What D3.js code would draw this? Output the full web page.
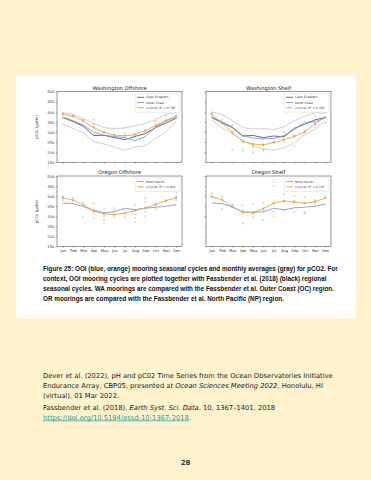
<!DOCTYPE html>
<html>
<head>
<meta charset="utf-8">
<script src="https://cdn.jsdelivr.net/npm/d3@7/dist/d3.min.js"></script>
<style>
  html, body { margin: 0; padding: 0; background: #fff2cc; }
  svg { display: block; }
</style>
</head>
<body>
<svg id="page" width="371" height="480"></svg>
<script>
var months = ["Jan","Feb","Mar","Apr","May","Jun","Jul","Aug","Sep","Oct","Nov","Dec"];
var yTicks = [150, 200, 250, 300, 350, 400, 450, 500];

// Washington Offshore
var waOffCape  = [372, 352, 328, 282, 284, 272, 262, 278, 292, 322, 345, 368];
var waOffOuter = [374, 356, 334, 298, 283, 278, 272, 257, 276, 326, 356, 372];
var waOffCycle = [388, 378, 356, 322, 298, 285, 281, 287, 307, 332, 357, 380];
var waOffErr   = [8, 8, 10, 12, 8, 6, 6, 8, 10, 12, 10, 8];
var waOffUpper = [396, 388, 368, 342, 322, 316, 320, 332, 342, 362, 388, 396];
var waOffLower = [338, 318, 296, 252, 240, 226, 210, 226, 232, 268, 302, 350];
var waOffMonthly = [[0,395],[1,383],[2,360],[3,362],[3,340],[4,300],[5,318],[6,322],[6,290],
                    [7,275],[8,300],[9,355],[10,380],[11,405],[11,370]];

// Washington Shelf
var waShelfCape  = [372, 345, 322, 280, 283, 272, 280, 276, 318, 338, 360, 372];
var waShelfOuter = [375, 350, 325, 282, 270, 266, 268, 282, 312, 348, 350, 370];
var waShelfCycle = [388, 345, 298, 253, 240, 236, 248, 262, 278, 300, 340, 375];
var waShelfErr   = [8, 10, 10, 10, 8, 8, 8, 8, 8, 10, 10, 8];
var waShelfUpper = [400, 386, 356, 322, 316, 316, 312, 326, 356, 378, 396, 392];
var waShelfLower = [362, 322, 292, 258, 232, 216, 210, 222, 246, 286, 312, 362];
var waShelfMonthly = [[0,395],[1,360],[2,335],[2,212],[3,215],[3,205],[4,225],[4,200],[5,215],
                      [5,205],[6,260],[7,300],[7,250],[8,285],[8,232],[9,305],[10,322],[10,380],
                      [11,400],[11,345]];

// Oregon Offshore
var orOffNP    = [366, 363, 348, 330, 318, 322, 340, 333, 340, 345, 350, 358];
var orOffCycle = [392, 380, 356, 326, 312, 308, 315, 328, 342, 360, 378, 392];
var orOffErr   = [8, 8, 10, 8, 8, 8, 8, 8, 8, 10, 8, 10];
var orOffMonthly = [[0,400],[0,380],[1,390],[2,370],[2,295],[3,365],[3,290],[3,320],[4,340],
                    [4,300],[4,280],[4,265],[5,340],[5,330],[5,295],[6,330],[6,295],[7,355],
                    [7,310],[7,290],[7,270],[8,390],[8,370],[8,320],[8,300],[9,350],[9,335],
                    [10,375],[11,420],[11,400],[11,380]];

// Oregon Shelf
var orShelfNP    = [366, 363, 346, 322, 320, 322, 340, 332, 342, 345, 350, 360];
var orShelfCycle = [398, 382, 348, 320, 318, 338, 365, 376, 370, 365, 372, 390];
var orShelfErr   = [10, 10, 8, 8, 8, 8, 10, 10, 8, 8, 8, 10];
var orShelfMonthly = [[0,415],[0,395],[1,400],[1,335],[2,360],[2,350],[3,355],[3,265],[3,330],
                      [4,360],[4,295],[4,310],[5,365],[5,280],[5,325],[6,470],[6,450],[6,300],
                      [6,320],[7,410],[7,330],[8,400],[8,320],[8,375],[9,395],[9,315],[9,320],
                      [10,380],[10,360],[11,430],[11,400]];

var captionLines = [
  "Figure 25:  OOI (blue, orange) mooring seasonal cycles and monthly averages (gray) for pCO2. For",
  "context, OOI mooring cycles are plotted together with Fassbender et al. (2018) (black) regional",
  "seasonal cycles.  WA moorings are compared with the Fassbender et al. Outer Coast (OC) region.",
  "OR moorings are compared with the Fassbender et al. North Pacific (NP) region."
];

var colDark = "#3b4580", colBlue = "#7090d0", colOrange = "#f0a33c", colGray = "#bcbcbc";

var panels = [
  {title: "Washington Offshore", col: 0, row: 0, upper: waOffUpper, lower: waOffLower,
   monthly: waOffMonthly, dark: waOffCape, blue: waOffOuter, cycle: waOffCycle, err: waOffErr,
   legend: [["Cape Elizabeth", "#444"], ["Outer Coast", colBlue], ["2-Cycle: R\u00b2 = 0.795", colOrange]]},
  {title: "Washington Shelf", col: 1, row: 0, upper: waShelfUpper, lower: waShelfLower,
   monthly: waShelfMonthly, dark: waShelfCape, blue: waShelfOuter, cycle: waShelfCycle, err: waShelfErr,
   legend: [["Cape Elizabeth", "#444"], ["Outer Coast", colBlue], ["2-Cycle: R\u00b2 = 0.768", colOrange]]},
  {title: "Oregon Offshore", col: 0, row: 1, monthly: orOffMonthly, blue: orOffNP,
   cycle: orOffCycle, err: orOffErr,
   legend: [["North Pacific", colBlue], ["2-Cycle: R\u00b2 = 0.841", colOrange]]},
  {title: "Oregon Shelf", col: 1, row: 1, monthly: orShelfMonthly, blue: orShelfNP,
   cycle: orShelfCycle, err: orShelfErr,
   legend: [["North Pacific", colBlue], ["2-Cycle: R\u00b2 = 0.335", colOrange]]}
];

var svg = d3.select("#page");
svg.append("rect").attr("width", 371).attr("height", 480).attr("fill", "#fff2cc");
svg.append("rect").attr("x", 16).attr("y", 76).attr("width", 340).attr("height", 242).attr("fill", "#ffffff");

var colX = [57, 206], pw = 125;
var rowY = [91.7, 176], ph = 70.5;
var xScale = d3.scaleLinear().domain([-0.55, 11.55]).range([0, pw]);
var yScale = d3.scaleLinear().domain([150, 500]).range([ph, 0]);

panels.forEach(function(p) {
  var g = svg.append("g").attr("transform", "translate(" + colX[p.col] + "," + rowY[p.row] + ")");
  var line = d3.line().x(function(d, i) { return xScale(i); }).y(function(d) { return yScale(d); });

  g.append("rect").attr("width", pw).attr("height", ph).attr("fill", "#fff");

  if (p.upper) {
    [p.upper, p.lower].forEach(function(s) {
      g.append("path").attr("d", line(s)).attr("fill", "none").attr("stroke", colGray).attr("stroke-width", 0.7);
    });
  }
  // monthly averages (gray crosses)
  g.selectAll(".mo").data(p.monthly).enter().append("path")
    .attr("d", function(d) {
      var cx = xScale(d[0]), cy = yScale(d[1]), s = 0.9;
      return "M" + (cx - s) + "," + (cy - s) + "L" + (cx + s) + "," + (cy + s) +
             "M" + (cx - s) + "," + (cy + s) + "L" + (cx + s) + "," + (cy - s);
    })
    .attr("stroke", "#a0a0a0").attr("stroke-width", 0.45);

  if (p.dark) g.append("path").attr("d", line(p.dark)).attr("fill", "none").attr("stroke", colDark).attr("stroke-width", 0.8);
  g.append("path").attr("d", line(p.blue)).attr("fill", "none").attr("stroke", colBlue).attr("stroke-width", 0.8);
  g.append("path").attr("d", line(p.cycle)).attr("fill", "none").attr("stroke", colOrange).attr("stroke-width", 0.9);

  // error bars + markers
  var eb = g.selectAll(".eb").data(p.cycle).enter().append("g");
  eb.append("line")
    .attr("x1", function(d, i) { return xScale(i); }).attr("x2", function(d, i) { return xScale(i); })
    .attr("y1", function(d, i) { return yScale(d + p.err[i]); })
    .attr("y2", function(d, i) { return yScale(d - p.err[i]); })
    .attr("stroke", colOrange).attr("stroke-width", 0.4);
  eb.append("path")
    .attr("d", function(d, i) {
      var cx = xScale(i), cy = yScale(d), s = 0.9;
      return "M" + (cx - s) + "," + (cy - s) + "L" + (cx + s) + "," + (cy + s) +
             "M" + (cx - s) + "," + (cy + s) + "L" + (cx + s) + "," + (cy - s);
    })
    .attr("stroke", "#d98a20").attr("stroke-width", 0.6);

  // axes
  var ya = d3.axisLeft(yScale).tickValues(yTicks).tickSize(1.4).tickPadding(1.2);
  if (p.col === 1) ya.tickFormat("");
  var yg = g.append("g").call(ya);
  var xa = d3.axisBottom(xScale).tickValues(d3.range(12)).tickSize(1.4).tickPadding(1.2)
    .tickFormat(function(i) { return p.row === 1 ? months[i] : ""; });
  var xg = g.append("g").attr("transform", "translate(0," + ph + ")").call(xa);
  [yg, xg].forEach(function(a) {
    a.select(".domain").remove();
    a.selectAll("line").attr("stroke", "#333").attr("stroke-width", 0.4);
    a.selectAll("text").attr("font-family", "DejaVu Sans").attr("font-size", 3.7).attr("fill", "#333");
  });
  g.append("rect").attr("width", pw).attr("height", ph).attr("fill", "none")
    .attr("stroke", "#333").attr("stroke-width", 0.5);

  g.append("text").attr("x", pw / 2).attr("y", -1.8).attr("text-anchor", "middle")
    .attr("font-family", "DejaVu Sans").attr("font-size", 5.2).attr("fill", "#222").text(p.title);

  if (p.col === 0) {
    g.append("text").attr("transform", "translate(-19," + (ph / 2) + ") rotate(-90)")
      .attr("text-anchor", "middle").attr("font-family", "DejaVu Sans").attr("font-size", 3.8)
      .attr("fill", "#333").text("pCO\u2082 (\u00b5atm)");
  }

  // legend
  var lw = 45, lh = 3 + p.legend.length * 5.2;
  var lg = g.append("g").attr("transform", "translate(" + (pw - lw - 2) + ",2)");
  lg.append("rect").attr("width", lw).attr("height", lh).attr("rx", 0.6)
    .attr("fill", "#fff").attr("stroke", "#ccc").attr("stroke-width", 0.4);
  p.legend.forEach(function(e, i) {
    var yy = 3.6 + i * 5.2;
    lg.append("line").attr("x1", 2).attr("x2", 9).attr("y1", yy).attr("y2", yy)
      .attr("stroke", e[1]).attr("stroke-width", 0.8);
    if (e[1] === colOrange) lg.append("circle").attr("cx", 5.5).attr("cy", yy).attr("r", 0.8).attr("fill", colOrange);
    lg.append("text").attr("x", 11).attr("y", yy + 1.1).attr("font-family", "DejaVu Sans")
      .attr("font-size", 3).attr("fill", "#333").text(e[0]);
  });
});

// caption
var cap = svg.append("g").attr("font-family", "Liberation Sans, Arial, sans-serif")
  .attr("font-weight", "bold").attr("fill", "#111");
var capText = cap.selectAll("text").data(captionLines).enter().append("text")
  .attr("x", 43).attr("y", function(d, i) { return 270.5 + i * 10; })
  .attr("font-size", 10).text(function(d) { return d; });
var w0 = capText.nodes()[0].getComputedTextLength();
capText.attr("font-size", 10 * 295 / w0);

// references
var refs = svg.append("g").attr("font-family", "DejaVu Sans, sans-serif").attr("fill", "#222");
var r1 = refs.append("text").attr("x", 43).attr("y", 377.5).attr("font-size", 10)
  .text("Dever et al. (2022), pH and pC02 Time Series from the Ocean Observatories Initiative");
var rs = 10 * 290 / r1.node().getComputedTextLength();
r1.attr("font-size", rs);
var r2 = refs.append("text").attr("x", 43).attr("y", 387.5).attr("font-size", rs);
r2.append("tspan").text("Endurance Array, CBP05, presented at ");
r2.append("tspan").attr("font-style", "italic").text("Ocean Sciences Meeting 2022");
r2.append("tspan").text(", Honolulu, HI");
refs.append("text").attr("x", 43).attr("y", 397.5).attr("font-size", rs).text("(virtual), 01 Mar 2022.");
var r4 = refs.append("text").attr("x", 43).attr("y", 409.5).attr("font-size", rs);
r4.append("tspan").text("Fassbender et al. (2018), ");
r4.append("tspan").attr("font-style", "italic").text("Earth Syst. Sci. Data");
r4.append("tspan").text(", 10, 1367\u20131401, 2018");
var r5 = refs.append("text").attr("x", 43).attr("y", 419.5).attr("font-size", rs);
r5.append("tspan").attr("fill", "#1f9aa0").attr("text-decoration", "underline")
  .text("https://doi.org/10.5194/essd-10-1367-2018");
r5.append("tspan").text(".");

svg.append("text").attr("x", 185.5).attr("y", 465).attr("text-anchor", "middle")
  .attr("font-family", "DejaVu Sans, sans-serif").attr("font-weight", "bold")
  .attr("font-size", 7).attr("fill", "#333").text("28");
</script>
</body>
</html>
